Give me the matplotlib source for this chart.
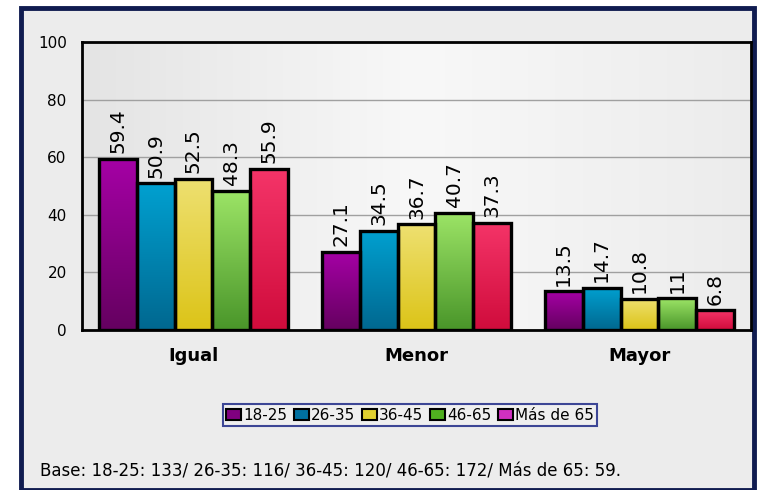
import numpy as np
import matplotlib.pyplot as plt
from matplotlib.patches import Rectangle
from matplotlib.colors import LinearSegmentedColormap

categories = ['Igual', 'Menor', 'Mayor']
series_names = ['18-25', '26-35', '36-45', '46-65', 'Más de 65']
values = {
    '18-25': [59.4, 27.1, 13.5],
    '26-35': [50.9, 34.5, 14.7],
    '36-45': [52.5, 36.7, 10.8],
    '46-65': [48.3, 40.7, 11],
    'Más de 65': [55.9, 37.3, 6.8],
}
labels = {
    '18-25': ['59.4', '27.1', '13.5'],
    '26-35': ['50.9', '34.5', '14.7'],
    '36-45': ['52.5', '36.7', '10.8'],
    '46-65': ['48.3', '40.7', '11'],
    'Más de 65': ['55.9', '37.3', '6.8'],
}
yticks = [0, 20, 40, 60, 80, 100]
footnote = 'Base: 18-25: 133/ 26-35: 116/ 36-45: 120/ 46-65: 172/ Más de 65: 59.'

# top / bottom colours of each bar gradient, plus legend swatch colour
grad = {
    '18-25': ('#a500a5', '#650060'),
    '26-35': ('#00a0d0', '#006890'),
    '36-45': ('#eee070', '#dcc418'),
    '46-65': ('#9ce466', '#4a962a'),
    'Más de 65': ('#f43468', '#d00c3c'),
}
swatch = {
    '18-25': '#800080',
    '26-35': '#0070a0',
    '36-45': '#e0d030',
    '46-65': '#50b020',
    'Más de 65': '#d030c0',
}

fig = plt.figure(figsize=(7.58, 4.90), dpi=100)
fig.patch.set_facecolor('white')

# outer frame
frame = Rectangle((21 / 758, 0.0), 733 / 758, 1 - 8 / 490, transform=fig.transFigure,
                  facecolor='#ececec', edgecolor='#101c50', linewidth=3.5, zorder=-5)
fig.patches.append(frame)

ax = fig.add_axes([82 / 758, 1 - 330 / 490, 669 / 758, 288 / 490])
ax.set_zorder(2)
ax.set_facecolor('none')

# plot area gradient background
bg = LinearSegmentedColormap.from_list('bg', ['#e4e4e4', '#f8f8f8', '#ececec'])
ax.imshow(np.linspace(0, 1, 256).reshape(1, -1), cmap=bg, aspect='auto',
          extent=[0, 1, 0, 1], transform=ax.transAxes, zorder=0)

x = np.arange(len(categories))
width = 0.17
offsets = (np.arange(len(series_names)) - 2) * width

for i, name in enumerate(series_names):
    bars = ax.bar(x + offsets[i], values[name], width, facecolor='none',
                  edgecolor='black', linewidth=2.4, zorder=3)
    cmap = LinearSegmentedColormap.from_list(name, [grad[name][1], grad[name][0]])
    for b, lab in zip(bars, labels[name]):
        x0, h = b.get_x(), b.get_height()
        im = ax.imshow(np.linspace(0, 1, 64).reshape(-1, 1), cmap=cmap, origin='lower',
                       aspect='auto', extent=[x0, x0 + width, 0, h], zorder=2)
        im.set_clip_path(b)
        ax.annotate(lab, (x0 + width / 2, h), xytext=(0, 4), textcoords='offset points',
                    rotation=90, ha='center', va='bottom', fontsize=14.5, zorder=4)

ax.set_xlim(-0.5, 2.5)
ax.set_ylim(0, 100)
ax.set_yticks(yticks)
ax.yaxis.grid(True, color='#a0a0a0', linewidth=1, zorder=1)
ax.set_axisbelow(True)
ax.tick_params(axis='y', length=0, labelsize=11, pad=11)
ax.set_xticks(x)
ax.set_xticklabels(categories, fontsize=13, fontweight='bold')
ax.tick_params(axis='x', length=0, pad=12)
for s in ax.spines.values():
    s.set_linewidth(2)
    s.set_color('black')

handles = [Rectangle((0, 0), 1, 1, facecolor=swatch[n], edgecolor='black', linewidth=1.5)
           for n in series_names]
leg = fig.legend(handles, series_names, loc='center', bbox_to_anchor=(410 / 758, 1 - 415 / 490),
                 ncol=5, fontsize=11, frameon=True, fancybox=False, handlelength=1.0,
                 handleheight=0.7, handletextpad=0.15, columnspacing=0.4,
                 borderpad=0.2, borderaxespad=0)
leg.get_frame().set_edgecolor('#101c80')
leg.get_frame().set_linewidth(1.5)
leg.get_frame().set_facecolor('#f0f0f0')

fig.text(40 / 758, 1 - 471 / 490, footnote, fontsize=12, va='center', ha='left')

fig.savefig('out.png', dpi=100)
